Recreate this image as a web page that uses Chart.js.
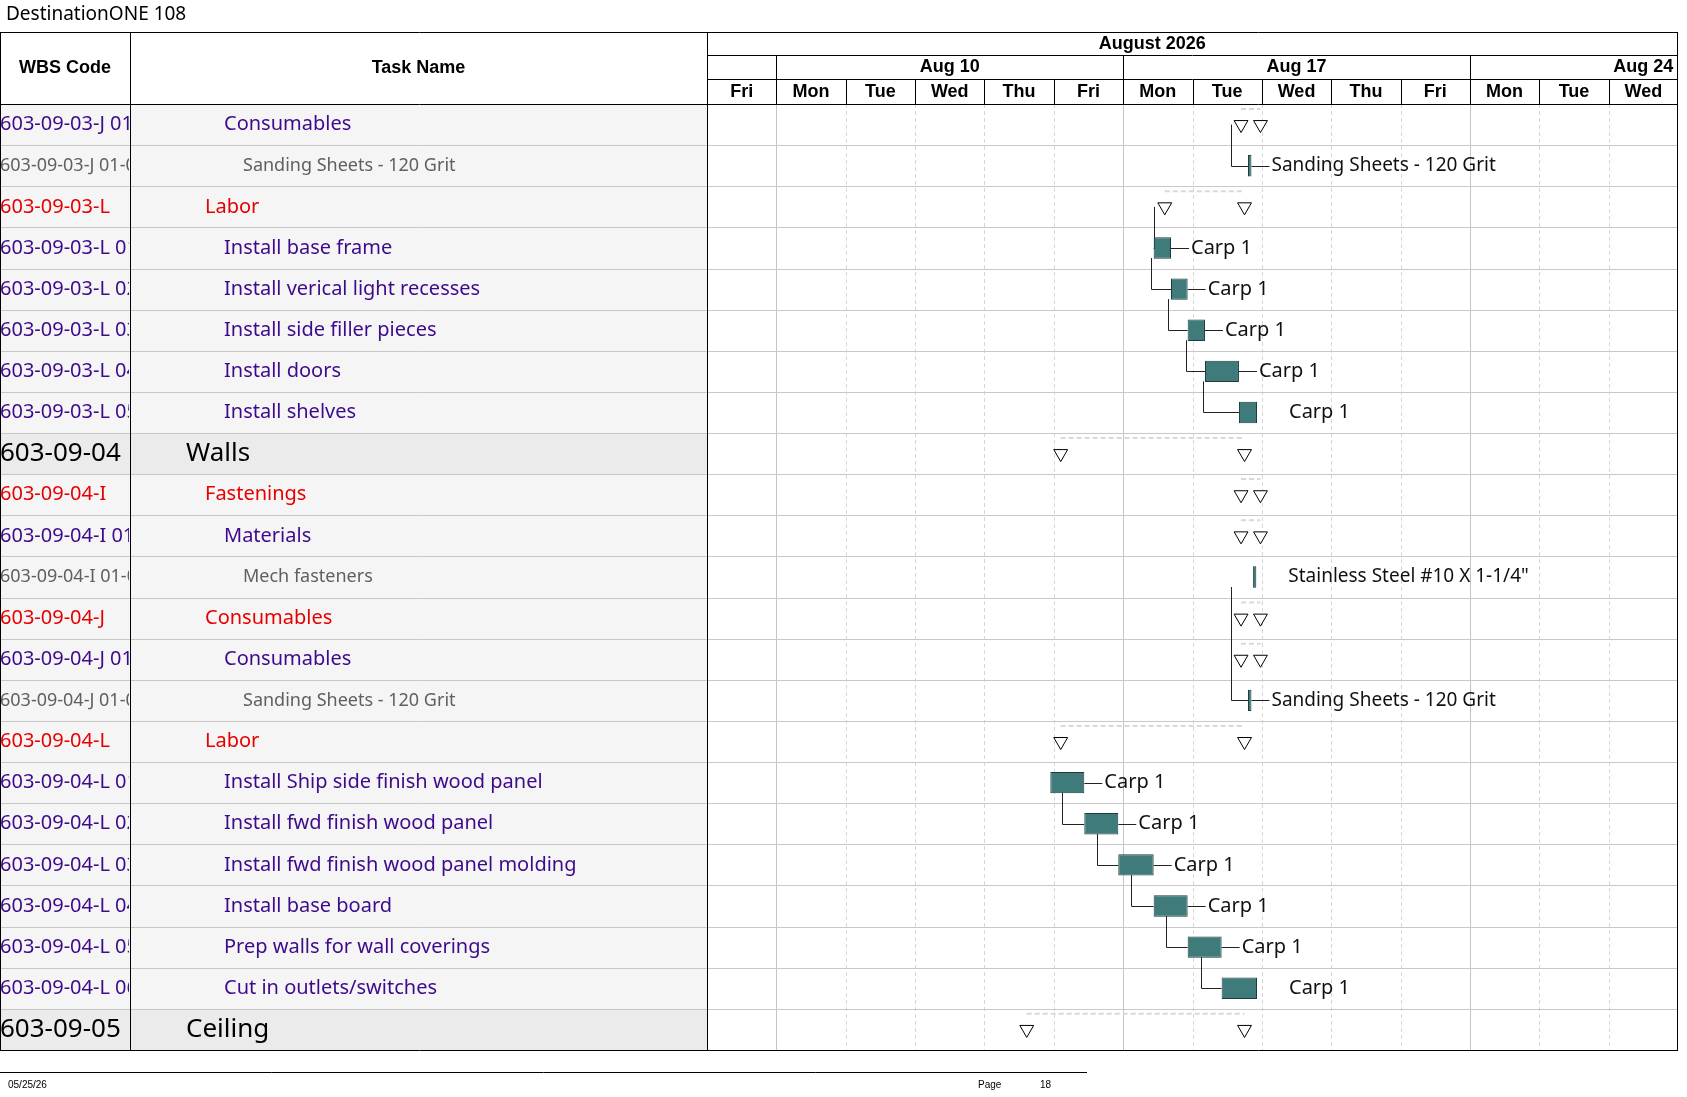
<!DOCTYPE html>
<html><head><meta charset="utf-8">
<script src="https://cdn.jsdelivr.net/npm/chart.js@4/dist/chart.umd.min.js"></script>
<style>body{margin:0;background:#fff}canvas{display:block}</style>
</head><body>
<canvas id="gantt" width="1687" height="1097"></canvas>
<script>
// row data
const wbsCodes = ['603-09-03-J 01','603-09-03-J 01-01','603-09-03-L','603-09-03-L 01','603-09-03-L 02','603-09-03-L 03','603-09-03-L 04','603-09-03-L 05',
  '603-09-04','603-09-04-I','603-09-04-I 01','603-09-04-I 01-01','603-09-04-J','603-09-04-J 01','603-09-04-J 01-01','603-09-04-L',
  '603-09-04-L 01','603-09-04-L 02','603-09-04-L 03','603-09-04-L 04','603-09-04-L 05','603-09-04-L 06','603-09-05'];
const taskNames = ['Consumables','Sanding Sheets - 120 Grit','Labor','Install base frame','Install verical light recesses','Install side filler pieces','Install doors','Install shelves',
  'Walls','Fastenings','Materials','Mech fasteners','Consumables','Consumables','Sanding Sheets - 120 Grit','Labor',
  'Install Ship side finish wood panel','Install fwd finish wood panel','Install fwd finish wood panel molding','Install base board','Prep walls for wall coverings','Cut in outlets/switches','Ceiling'];
// style level: 0 big, 1 red, 2 purple, 3 gray
const rowLevel = [2,3,1,2,2,2,2,2,0,1,2,3,1,2,3,1,2,2,2,2,2,2,0];
// bars in working-day units (0 = Fri Aug 7)
const barStart = [null,7.80,null,6.44,6.69,6.93,7.18,7.67,null,null,null,7.87,null,null,7.80,null,4.95,5.44,5.93,6.44,6.93,7.42,null];
const barEnd   = [null,7.85,null,6.69,6.93,7.18,7.67,7.93,null,null,null,7.92,null,null,7.85,null,5.44,5.93,6.44,6.93,7.42,7.93,null];
const resource = ['','Sanding Sheets - 120 Grit','','Carp 1','Carp 1','Carp 1','Carp 1','Carp 1','','','','Stainless Steel #10 X 1-1/4"','','','Sanding Sheets - 120 Grit','',
  'Carp 1','Carp 1','Carp 1','Carp 1','Carp 1','Carp 1',''];
const resourceGap = [0,4,0,4,4,4,4,32,0,0,0,32,0,0,4,0,4,4,4,4,4,32,0];
// summary markers [row, start, end]
const summaries = [[0,7.70,7.98],[2,6.60,7.75],[8,5.10,7.75],[9,7.70,7.98],[10,7.70,7.98],[12,7.70,7.98],[13,7.70,7.98],[15,5.10,7.75],[22,4.61,7.75]];
// elbow links [fromRow, toRow, xDrop]
const links = [[0,1,7.55],[2,3,6.44],[3,4,6.40],[4,5,6.65],[5,6,6.90],[6,7,7.15],[11,12,7.55],[12,13,7.55],[13,14,7.55],
  [16,17,5.12],[17,18,5.62],[18,19,6.12],[19,20,6.62],[20,21,7.12]];
const dayNames = ['Fri','Mon','Tue','Wed','Thu','Fri','Mon','Tue','Wed','Thu','Fri','Mon','Tue','Wed'];
const weekLabels = [[1,'Aug 10'],[6,'Aug 17'],[11,'Aug 24']];

const L = {wbs: 130, task: 707, top: 32, headBot: 104, bottom: 1050};
const hdrFont = 'bold 18px "Liberation Sans", Arial';

const ganttPlugin = {
  id: 'ganttTable',
  beforeDatasetsDraw(chart) {
    const ctx = chart.ctx, xs = chart.scales.x, ys = chart.scales.y, ca = chart.chartArea;
    const rh = (ca.bottom - ca.top) / taskNames.length;
    ctx.save();
    ctx.fillStyle = '#f5f5f5';
    ctx.fillRect(0, ca.top, L.task, ca.bottom - ca.top);
    rowLevel.forEach((lv, i) => {
      if (lv === 0) { ctx.fillStyle = '#ebebeb'; ctx.fillRect(0, ca.top + i * rh, L.task, rh); }
    });
    // day gridlines
    for (let d = 1; d < 14; d++) {
      const x = Math.round(xs.getPixelForValue(d)) + 0.5;
      ctx.beginPath();
      if (d % 5 === 1) { ctx.setLineDash([]); ctx.strokeStyle = '#c4c4c4'; }
      else { ctx.setLineDash([4, 3]); ctx.strokeStyle = '#d6d6d6'; }
      ctx.moveTo(x, ca.top); ctx.lineTo(x, ca.bottom); ctx.stroke();
    }
    ctx.setLineDash([]);
    ctx.strokeStyle = '#c8c8c8';
    for (let i = 1; i < taskNames.length; i++) {
      const y = Math.round(ca.top + i * rh) + 0.5;
      ctx.beginPath(); ctx.moveTo(0, y); ctx.lineTo(ca.right, y); ctx.stroke();
    }
    // summary dashed lines
    ctx.setLineDash([5, 3]); ctx.strokeStyle = '#d9d9d9'; ctx.lineWidth = 2;
    summaries.forEach(([r, s, e]) => {
      const y = ys.getPixelForValue(r) - rh * 0.38;
      ctx.beginPath(); ctx.moveTo(xs.getPixelForValue(s), y); ctx.lineTo(xs.getPixelForValue(e), y); ctx.stroke();
    });
    ctx.setLineDash([]); ctx.lineWidth = 1; ctx.strokeStyle = '#222';
    // links
    links.forEach(([a, b, xd]) => {
      const x = Math.round(xs.getPixelForValue(xd)) + 0.5;
      const y1 = ys.getPixelForValue(a) + (barStart[a] != null ? 10 : 0);
      const y2 = Math.round(ys.getPixelForValue(b)) + 0.5;
      const xe = xs.getPixelForValue(barStart[b]);
      ctx.beginPath(); ctx.moveTo(x, y1); ctx.lineTo(x, y2); ctx.lineTo(xe, y2); ctx.stroke();
    });
    ctx.restore();
  },
  afterDraw(chart) {
    const ctx = chart.ctx, xs = chart.scales.x, ys = chart.scales.y, ca = chart.chartArea;
    ctx.save();
    // resource labels
    ctx.textBaseline = 'middle'; ctx.textAlign = 'left';
    resource.forEach((t, i) => {
      if (!t) return;
      const xe = xs.getPixelForValue(barEnd[i]), y = ys.getPixelForValue(i);
      ctx.strokeStyle = '#222';
      if (resourceGap[i] === 4) { ctx.beginPath(); ctx.moveTo(xe, Math.round(y) + 0.5); ctx.lineTo(xe + 18, Math.round(y) + 0.5); ctx.stroke(); }
      const lx = xe + (resourceGap[i] === 4 ? 20 : resourceGap[i]);
      ctx.font = rowLevel[i] === 3 ? '19px "Noto Sans"' : '20px "Noto Sans"';
      ctx.fillStyle = '#111';
      ctx.fillText(t, lx, y);
    });
    // left table text
    const rh = (ca.bottom - ca.top) / taskNames.length;
    const colors = ['#000', '#e60000', '#3d0a8c', '#606060'];
    const indents = [186, 205, 224, 243];
    taskNames.forEach((t, i) => {
      const lv = rowLevel[i], y = ys.getPixelForValue(i);
      ctx.fillStyle = colors[lv];
      ctx.font = lv === 0 ? '26px "Noto Sans"' : (lv === 3 ? '18px "Noto Sans"' : '20px "Noto Sans"');
      ctx.save(); ctx.beginPath(); ctx.rect(0, y - rh / 2, L.wbs - 1, rh); ctx.clip();
      ctx.fillText(wbsCodes[i], 0, y); ctx.restore();
      ctx.fillText(t, indents[lv], y);
    });
    // header
    ctx.fillStyle = '#000'; ctx.font = hdrFont; ctx.textAlign = 'center';
    ctx.fillText('WBS Code', L.wbs / 2, (L.top + L.headBot) / 2);
    ctx.fillText('Task Name', (L.wbs + L.task) / 2, (L.top + L.headBot) / 2);
    ctx.fillText('August 2026', xs.getPixelForValue(6.42), 44);
    weekLabels.forEach(([c, t]) => ctx.fillText(t, xs.getPixelForValue(c + 2.5), 67));
    dayNames.forEach((t, d) => ctx.fillText(t, xs.getPixelForValue(d + 0.5), 92));
    ctx.strokeStyle = '#000'; ctx.lineWidth = 1;
    const hl = (x1, y, x2) => { ctx.beginPath(); ctx.moveTo(x1, y + 0.5); ctx.lineTo(x2, y + 0.5); ctx.stroke(); };
    const vl = (x, y1, y2) => { ctx.beginPath(); ctx.moveTo(x + 0.5, y1); ctx.lineTo(x + 0.5, y2); ctx.stroke(); };
    hl(0, L.top, ca.right); hl(L.task, 55, ca.right); hl(L.task, 79, ca.right);
    hl(0, L.headBot, ca.right); hl(0, L.bottom, ca.right);
    vl(0, L.top, L.bottom); vl(L.wbs, L.top, L.bottom); vl(L.task, L.top, L.bottom); vl(ca.right - 1, L.top, L.bottom);
    weekLabels.forEach(([c]) => vl(Math.round(xs.getPixelForValue(c)), 55, 79));
    for (let d = 1; d < 14; d++) vl(Math.round(xs.getPixelForValue(d)), 79, L.headBot);
    // page title and footer
    ctx.textAlign = 'left'; ctx.font = '19px "Noto Sans"';
    ctx.fillText('DestinationONE 108', 6, 15);
    ctx.strokeStyle = '#000'; hl(0, 1072, 1087);
    ctx.font = '10px "Liberation Sans", Arial';
    ctx.fillText('05/25/26', 8, 1085); ctx.fillText('Page', 978, 1085); ctx.fillText('18', 1040, 1085);
    ctx.restore();
  }
};

const rowIdx = taskNames.map((_, i) => i);
new Chart(document.getElementById('gantt'), {
  type: 'bar',
  data: {
    labels: rowIdx.map(String),
    datasets: [
      {
        data: rowIdx.map(i => barStart[i] == null ? null : [barStart[i], barEnd[i]]),
        backgroundColor: '#3f7b7b', borderColor: '#1e3c3c', borderWidth: 1, borderSkipped: false,
        barPercentage: 0.52, categoryPercentage: 1
      },
      {
        type: 'line', showLine: false,
        data: summaries.flatMap(([r, s, e]) => [{x: s, y: String(r)}, {x: e, y: String(r)}]),
        pointStyle: 'triangle', rotation: 180, pointRadius: 8, pointHoverRadius: 8,
        pointBackgroundColor: '#fff', pointBorderColor: '#000', pointBorderWidth: 1
      }
    ]
  },
  options: {
    indexAxis: 'y', responsive: false, animation: false, devicePixelRatio: 1,
    layout: {padding: {left: L.task, top: L.headBot, right: 0, bottom: 1097 - L.bottom}},
    plugins: {legend: {display: false}, tooltip: {enabled: false}},
    scales: {
      x: {type: 'linear', min: 0, max: 14, display: false},
      y: {type: 'category', offset: true, display: false}
    }
  },
  plugins: [ganttPlugin]
});
</script>
</body></html>
